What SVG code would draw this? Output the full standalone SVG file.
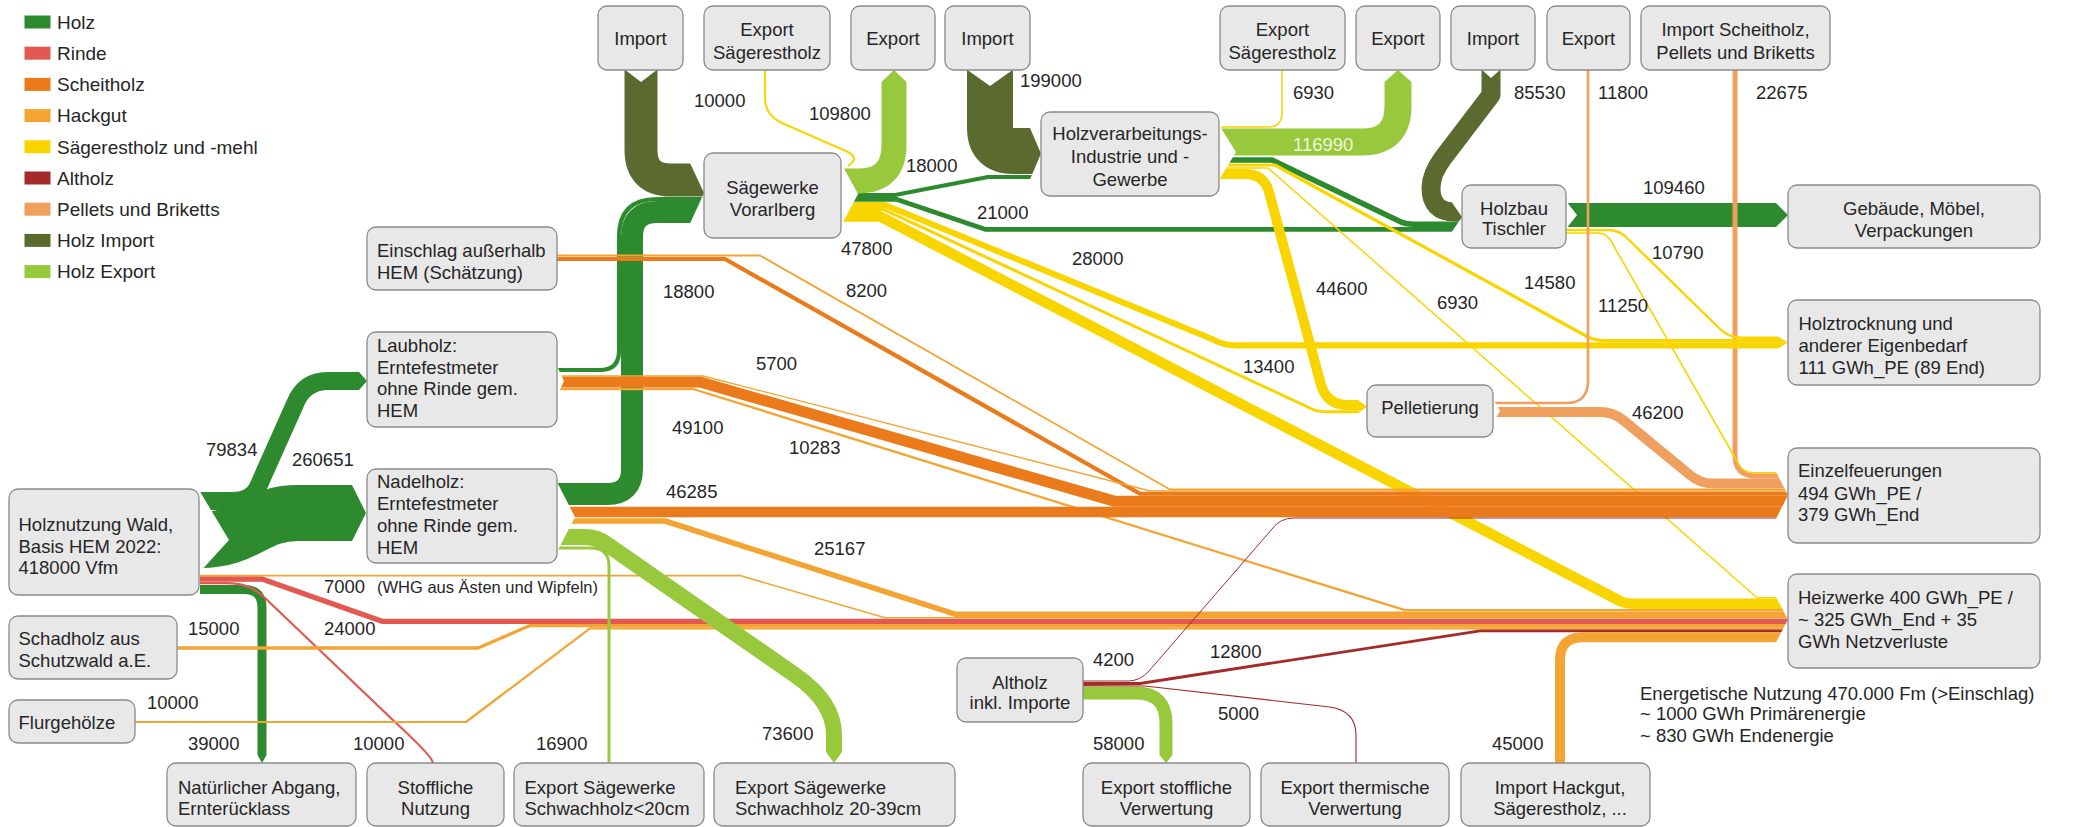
<svg xmlns="http://www.w3.org/2000/svg" width="2074" height="827" viewBox="0 0 2074 827">
<defs>
<style>
text{font-family:"Liberation Sans",Arial,sans-serif;font-size:18.5px;fill:#262626}
.c{text-anchor:middle}
.lg{font-size:19px}
.nd rect{fill:#e8e8e8;stroke:#8a8a8a;stroke-width:1.3}
.f{fill:none;stroke-linejoin:round;stroke-linecap:butt}
.hz{stroke:#2d8a2e}.ri{stroke:#e35850}.sc{stroke:#ea7a1a}.hg{stroke:#f4a433}.sr{stroke:#f9d500}.ah{stroke:#a52a2a}.pb{stroke:#f0a05e}.hi{stroke:#5b6b2f}.he{stroke:#98c83c}
.notch{fill:#fff}
</style>
<clipPath id="cpLaub"><path clip-rule="evenodd" d="M0,0H2074V827H0Z M359,352H399V410H359V390L367,381L359,372Z"/></clipPath>
<clipPath id="cpNadel"><path clip-rule="evenodd" d="M0,0H2074V827H0Z M352,465H392V561H352V541L366,513L352,485Z"/></clipPath>
<clipPath id="cpSag"><path clip-rule="evenodd" d="M0,0H2074V827H0Z M690,143H730V243H690V223.5L704,193L690,163Z"/></clipPath>
<clipPath id="cpHV"><path clip-rule="evenodd" d="M0,0H2074V827H0Z M1030,108H1070V199H1030V179.5L1041,153.5L1030,128Z"/></clipPath>
<clipPath id="cpHB"><path clip-rule="evenodd" d="M0,0H2074V827H0Z M1452,182H1490V252H1452V231.6L1462,217L1452,202.5Z"/></clipPath>
<clipPath id="cpGeb"><path clip-rule="evenodd" d="M0,0H2074V827H0Z M1776,183H1800V247H1776V227L1788,215L1776,203Z"/></clipPath>
<clipPath id="cpHT"><path clip-rule="evenodd" d="M0,0H2074V827H0Z M1778,316H1800V369H1778V348.4L1788,342.5L1778,336.6Z"/></clipPath>
<clipPath id="cpEF"><path clip-rule="evenodd" d="M0,0H2074V827H0Z M1776,450H1800V538H1776V518.5L1788,495.2L1776,471.9Z"/></clipPath>
<clipPath id="cpHW"><path clip-rule="evenodd" d="M0,0H2074V827H0Z M1776,577H1800V662H1776V642.2L1788,619.6L1776,597Z"/></clipPath>
<clipPath id="cpPel"><path clip-rule="evenodd" d="M0,0H2074V827H0Z M1358,380H1380V434H1358V413.3L1367,406.7L1358,400Z"/></clipPath>
<clipPath id="cpEx1"><path clip-rule="evenodd" d="M0,0H2074V827H0Z M861.5,82H881.5L894,70L906.5,82H926.5V52H861.5Z"/></clipPath>
<clipPath id="cpEx2"><path clip-rule="evenodd" d="M0,0H2074V827H0Z M1364.5,82H1384.5L1398,70L1411.5,82H1431.5V52H1364.5Z"/></clipPath>
<clipPath id="cpNat"><path clip-rule="evenodd" d="M0,0H2074V827H0Z M237.5,755H257.5L262,763L266.5,755H286.5V785H237.5Z"/></clipPath>
<clipPath id="cpEx2039"><path clip-rule="evenodd" d="M0,0H2074V827H0Z M806,752H826L834,763L842,752H862V782H806Z"/></clipPath>
<clipPath id="cpExSt"><path clip-rule="evenodd" d="M0,0H2074V827H0Z M1139.5,755H1159.5L1166,763L1172.5,755H1192.5V785H1139.5Z"/></clipPath>
</defs>
<rect width="2074" height="827" fill="#ffffff"/>

<g id="legend">
<rect x="24.5" y="15.5" width="26" height="13" fill="#2d8a2e"/><text class="lg" x="57" y="28.8">Holz</text>
<rect x="24.5" y="46.7" width="26" height="13" fill="#e35850"/><text class="lg" x="57" y="60">Rinde</text>
<rect x="24.5" y="77.9" width="26" height="13" fill="#ea7a1a"/><text class="lg" x="57" y="91.2">Scheitholz</text>
<rect x="24.5" y="109.1" width="26" height="13" fill="#f4a433"/><text class="lg" x="57" y="122.4">Hackgut</text>
<rect x="24.5" y="140.3" width="26" height="13" fill="#f9d500"/><text class="lg" x="57" y="153.6">Sägerestholz und -mehl</text>
<rect x="24.5" y="171.5" width="26" height="13" fill="#a52a2a"/><text class="lg" x="57" y="184.8">Altholz</text>
<rect x="24.5" y="202.7" width="26" height="13" fill="#f0a05e"/><text class="lg" x="57" y="216">Pellets und Briketts</text>
<rect x="24.5" y="233.9" width="26" height="13" fill="#5b6b2f"/><text class="lg" x="57" y="247.2">Holz Import</text>
<rect x="24.5" y="265.1" width="26" height="13" fill="#98c83c"/><text class="lg" x="57" y="278.4">Holz Export</text>
</g>

<g id="connectors">
<g clip-path="url(#cpLaub)"><path class="f hz" stroke-width="18" d="M200,501 L232,501 Q252,501 258,487 L295,404 Q304,381 328,381 L367,381"/></g>
<g clip-path="url(#cpNadel)"><path class="f hz" stroke-width="56" d="M200,540 C248,540 254,513 298,513 L366,513"/></g>
<g clip-path="url(#cpNat)"><path class="f hz" stroke-width="9" d="M200,589.5 L244,589.5 Q262,589.5 262,607.5 L262,763"/></g>
<path class="f ri" stroke-width="2.2" d="M200,583.2 L228,583.2 Q250,583.2 265,598 L395,722 Q433,757 433,763"/>

<g clip-path="url(#cpSag)">
<path class="f hi" stroke-width="33" d="M641,70 L641,150 Q641,180 671,180 L704,180"/>
<path class="f hz" stroke-width="22" d="M557,494 L607,494 Q632,494 632,469 L632,237 Q632,212 657,212 L704,212"/>
<path class="f hz" stroke-width="4.2" d="M557,370 L600,370 Q619,370 619,351 L619,237 Q619,199 657,199 L704,199"/>
</g>
<g clip-path="url(#cpHV)">
<path class="f hi" stroke-width="46" d="M990,70 L990,128 Q990,151 1013,151 L1041,151"/>
<path class="f hz" stroke-width="4" d="M841,195 L895,195 L988,177 L1041,177"/>
</g>
<g clip-path="url(#cpHB)">
<path class="f hi" stroke-width="19" d="M1491,70 L1491,95 L1443,158 Q1431,174 1431,188 Q1431,212 1455,212 L1462,212"/>
<path class="f hz" stroke-width="5.5" d="M1219,160 L1272,160 L1400,221.5 Q1405,224.2 1414,224.2 L1462,224.2"/>
<path class="f hz" stroke-width="4.7" d="M841,199.4 L897,199.4 L985,229.3 L1462,229.3"/>
</g>
<g clip-path="url(#cpGeb)"><path class="f hz" stroke-width="24" d="M1566,215 L1788,215"/></g>

<g clip-path="url(#cpHW)">
<path class="f ri" stroke-width="5.3" d="M200,579 L262,579 L382,621.3 L1788,621.3"/>
<path class="f hg" stroke-width="3.3" d="M177,648 L478,648 L530,625.6 L1788,625.6"/>
<path class="f hg" stroke-width="2.2" d="M135,722 L466,722 L590,628.3 L1788,628.3"/>
<path class="f hg" stroke-width="1.6" d="M200,575.6 L740,575.6 L885,617.8 L1788,617.8"/>
<path class="f hg" stroke-width="5.6" d="M557,521 L665,521 L955,614.2 L1788,614.2"/>
<path class="f hg" stroke-width="2.3" d="M557,389 L693,389 L1405,610.2 L1788,610.2"/>
<path class="f ah" stroke-width="2.8" d="M1083,683.5 L1140,683.5 L1480,630.8 L1788,630.8"/>
<path class="f hg" stroke-width="10" d="M1560,763 L1560,660 Q1560,637.2 1583,637.2 L1788,637.2"/>
<path class="f sr" stroke-width="10.6" d="M841,216.4 L880,216.4 L1620,601 Q1625,603.8 1636,603.8 L1788,603.8"/>
<path class="f sr" stroke-width="1.5" d="M1219,168 L1268,168 L1757,597.7 L1788,597.7"/>
</g>

<g clip-path="url(#cpEF)">
<path class="f sc" stroke-width="10.3" d="M557,512 L1788,512"/>
<path class="f sc" stroke-width="11" d="M557,382 L700,382 L1115,501.35 L1788,501.35"/>
<path class="f sc" stroke-width="4.2" d="M557,259 L725,259 L1140,493.75 L1788,493.75"/>
<path class="f hg" stroke-width="1.3" d="M557,376 L703,376 L1150,491 L1788,491"/>
<path class="f hg" stroke-width="1.8" d="M557,255.5 L760,255.5 L1170,489.45 L1788,489.45"/>
<path class="f ah" stroke-width="1" d="M1083,681 L1128,681 Q1140,681 1149,671 L1272,529 Q1280,518 1294,518 L1788,518"/>
<path class="f pb" stroke-width="10" d="M1494,412 L1600,412 Q1613,412 1623,420 L1690,475 Q1700,483.55 1713,483.55 L1788,483.55"/>
<path class="f pb" stroke-width="5" d="M1735,70 L1735,455 Q1735,476.05 1756,476.05 L1788,476.05"/>
<path class="f sr" stroke-width="1.6" d="M1566,233 L1598,233 Q1606,233 1611,241 L1738,463 Q1743,472.75 1754,472.75 L1788,472.75"/>
</g>

<g clip-path="url(#cpHT)">
<path class="f sr" stroke-width="6.2" d="M841,205 L885,205 L1212,339 Q1222,345.3 1236,345.3 L1788,345.3"/>
<path class="f sr" stroke-width="3.2" d="M1219,165 L1275,165 L1588,337 Q1595,340.6 1606,340.6 L1788,340.6"/>
<path class="f sr" stroke-width="2.4" d="M1566,230 L1608,230 Q1620,230 1628,239 L1719,328 Q1728,337.8 1742,337.8 L1788,337.8"/>
</g>

<g clip-path="url(#cpPel)">
<path class="f sr" stroke-width="10" d="M1219,174 L1245,174 Q1264,174 1269,192 L1321,385 Q1327,405 1348,405 L1367,405"/>
<path class="f sr" stroke-width="3" d="M841,209.6 L884,209.6 L1312,409 Q1318,411.8 1328,411.8 L1367,411.8"/>
</g>

<g clip-path="url(#cpEx1)"><path class="f he" stroke-width="25" d="M841,181 L858,181 Q894,181 894,145 L894,70"/></g>
<g clip-path="url(#cpEx2)"><path class="f he" stroke-width="27" d="M1219,142 L1362,142 Q1398,142 1398,106 L1398,70"/></g>
<g clip-path="url(#cpEx2039)"><path class="f he" stroke-width="16" d="M557,537 L585,537 Q598,537 608,545 L795,675 Q834,702 834,735 L834,763"/></g>
<path class="f he" stroke-width="3" d="M557,548 L591,548 Q609,548 609,566 L609,763"/>
<g clip-path="url(#cpExSt)"><path class="f he" stroke-width="13" d="M1083,693 L1136,693 Q1166,693 1166,723 L1166,763"/></g>

<path class="f sr" stroke-width="2" d="M848,166 Q860,158 848,152 L782,123 Q765,115 765,98 L765,70"/>
<path class="f sr" stroke-width="1.5" d="M1221,127 L1268,127 Q1282,127 1282,113 L1282,70"/>
<path class="f pb" stroke-width="2.6" d="M1494,403 L1566,403 Q1588,403 1588,381 L1588,70"/>
<path class="f ah" stroke-width="1.1" d="M1083,685.6 L1145,686 L1330,707 Q1356,711 1356,735 L1356,763"/>

<polygon class="notch" points="199,490 229,540 199,573"/>
<polygon class="notch" points="557,482 575,517 557,552"/>
<polygon class="notch" points="557,366 564,381 557,396"/>
<polygon class="notch" points="841,163 858,194 841,226"/>
<polygon class="notch" points="1219,125 1236,152 1219,180"/>
<polygon class="notch" points="1566,201 1577,215 1566,229"/>
<polygon class="notch" points="1493,399 1500,411 1493,423"/>
<polygon class="notch" points="624,69 641,82 658,69"/>
<polygon class="notch" points="966,69 990,86 1014,69"/>
<polygon class="notch" points="1481,69 1491,78 1501,69"/>
</g>

<g id="n-holznutzung" class="nd"><rect x="9" y="489" width="190" height="106" rx="9"/><text x="18.5" y="530.5">Holznutzung Wald,</text><text x="18.5" y="552.5">Basis HEM 2022:</text><text x="18.5" y="573.5">418000 Vfm</text></g>
<g id="n-schadholz" class="nd"><rect x="9" y="616" width="168" height="63" rx="9"/><text x="18.5" y="645">Schadholz aus</text><text x="18.5" y="667">Schutzwald a.E.</text></g>
<g id="n-flurgehoelze" class="nd"><rect x="9" y="700" width="126" height="43" rx="9"/><text x="18.5" y="728.5">Flurgehölze</text></g>
<g id="n-einschlag" class="nd"><rect x="367" y="227" width="190" height="63" rx="9"/><text x="377" y="257">Einschlag außerhalb</text><text x="377" y="278.5">HEM (Schätzung)</text></g>
<g id="n-laubholz" class="nd"><rect x="367" y="332" width="190" height="95" rx="9"/><text x="377" y="352">Laubholz:</text><text x="377" y="373.5">Erntefestmeter</text><text x="377" y="395">ohne Rinde gem.</text><text x="377" y="417">HEM</text></g>
<g id="n-nadelholz" class="nd"><rect x="367" y="469" width="190" height="94" rx="9"/><text x="377" y="488">Nadelholz:</text><text x="377" y="510">Erntefestmeter</text><text x="377" y="532">ohne Rinde gem.</text><text x="377" y="554">HEM</text></g>
<g id="n-natabgang" class="nd"><rect x="167" y="763" width="189" height="63" rx="9"/><text x="178" y="793.5">Natürlicher Abgang,</text><text x="178" y="815">Ernterücklass</text></g>
<g id="n-stoffl" class="nd"><rect x="367" y="763" width="137" height="63" rx="9"/><text class="c" x="435.5" y="793.5">Stoffliche</text><text class="c" x="435.5" y="815">Nutzung</text></g>
<g id="n-exsw20" class="nd"><rect x="514" y="763" width="190" height="63" rx="9"/><text x="524.5" y="793.5">Export Sägewerke</text><text x="524.5" y="815">Schwachholz&lt;20cm</text></g>
<g id="n-exsw2039" class="nd"><rect x="714" y="763" width="241" height="63" rx="9"/><text x="735" y="793.5">Export Sägewerke</text><text x="735" y="815">Schwachholz 20-39cm</text></g>
<g id="n-import1" class="nd"><rect x="598" y="6" width="85" height="64" rx="9"/><text class="c" x="640.5" y="44.5">Import</text></g>
<g id="n-exsr1" class="nd"><rect x="704" y="6" width="126" height="64" rx="9"/><text class="c" x="767" y="36">Export</text><text class="c" x="767" y="58.5">Sägerestholz</text></g>
<g id="n-export1" class="nd"><rect x="851" y="6" width="84" height="64" rx="9"/><text class="c" x="893" y="44.5">Export</text></g>
<g id="n-import2" class="nd"><rect x="945" y="6" width="85" height="64" rx="9"/><text class="c" x="987.5" y="44.5">Import</text></g>
<g id="n-exsr2" class="nd"><rect x="1220" y="6" width="125" height="64" rx="9"/><text class="c" x="1282.5" y="36">Export</text><text class="c" x="1282.5" y="58.5">Sägerestholz</text></g>
<g id="n-export2" class="nd"><rect x="1356" y="6" width="84" height="64" rx="9"/><text class="c" x="1398" y="44.5">Export</text></g>
<g id="n-import3" class="nd"><rect x="1451" y="6" width="84" height="64" rx="9"/><text class="c" x="1493" y="44.5">Import</text></g>
<g id="n-export3" class="nd"><rect x="1547" y="6" width="83" height="64" rx="9"/><text class="c" x="1588.5" y="44.5">Export</text></g>
<g id="n-importsch" class="nd"><rect x="1641" y="6" width="189" height="64" rx="9"/><text class="c" x="1735.5" y="36">Import Scheitholz,</text><text class="c" x="1735.5" y="58.5">Pellets und Briketts</text></g>
<g id="n-saegewerke" class="nd"><rect x="704" y="153" width="137" height="85" rx="9"/><text class="c" x="772.5" y="193.5">Sägewerke</text><text class="c" x="772.5" y="216">Vorarlberg</text></g>
<g id="n-holzverarb" class="nd"><rect x="1041" y="112" width="178" height="84" rx="9"/><text class="c" x="1130" y="140">Holzverarbeitungs-</text><text class="c" x="1130" y="163">Industrie und -</text><text class="c" x="1130" y="185.5">Gewerbe</text></g>
<g id="n-holzbau" class="nd"><rect x="1462" y="185" width="104" height="63" rx="9"/><text class="c" x="1514" y="214.5">Holzbau</text><text class="c" x="1514" y="235">Tischler</text></g>
<g id="n-gebaeude" class="nd"><rect x="1788" y="185" width="252" height="63" rx="9"/><text class="c" x="1914" y="215">Gebäude, Möbel,</text><text class="c" x="1914" y="237">Verpackungen</text></g>
<g id="n-holztrocknung" class="nd"><rect x="1788" y="300" width="252" height="85" rx="9"/><text x="1798.5" y="329.5">Holztrocknung und</text><text x="1798.5" y="352">anderer Eigenbedarf</text><text x="1798.5" y="373.5">111 GWh_PE (89 End)</text></g>
<g id="n-pelletierung" class="nd"><rect x="1367" y="385" width="126" height="52" rx="9"/><text class="c" x="1430" y="413.5">Pelletierung</text></g>
<g id="n-einzelfeuerungen" class="nd"><rect x="1788" y="448" width="252" height="95" rx="9"/><text x="1798" y="477">Einzelfeuerungen</text><text x="1798" y="500">494 GWh_PE /</text><text x="1798" y="521">379 GWh_End</text></g>
<g id="n-heizwerke" class="nd"><rect x="1788" y="574" width="252" height="94" rx="9"/><text x="1798" y="603.5">Heizwerke 400 GWh_PE /</text><text x="1798" y="626">~ 325 GWh_End + 35</text><text x="1798" y="647.5">GWh Netzverluste</text></g>
<g id="n-altholz" class="nd"><rect x="957" y="658" width="126" height="64" rx="9"/><text class="c" x="1020" y="688.5">Altholz</text><text class="c" x="1020" y="709">inkl. Importe</text></g>
<g id="n-exstoffl" class="nd"><rect x="1083" y="763" width="167" height="63" rx="9"/><text class="c" x="1166.5" y="793.5">Export stoffliche</text><text class="c" x="1166.5" y="815">Verwertung</text></g>
<g id="n-exthermisch" class="nd"><rect x="1261" y="763" width="188" height="63" rx="9"/><text class="c" x="1355" y="793.5">Export thermische</text><text class="c" x="1355" y="815">Verwertung</text></g>
<g id="n-importhackgut" class="nd"><rect x="1461" y="763" width="189" height="63" rx="9"/><text class="c" x="1560" y="793.5">Import Hackgut,</text><text class="c" x="1560" y="815">Sägerestholz, ...</text></g>

<g id="labels">
<text x="694" y="107">10000</text>
<text x="809" y="120">109800</text>
<text x="906" y="172">18000</text>
<text x="1020" y="87">199000</text>
<text x="977" y="219">21000</text>
<text x="841" y="255">47800</text>
<text x="1072" y="265">28000</text>
<text x="663" y="298">18800</text>
<text x="846" y="297">8200</text>
<text x="756" y="370">5700</text>
<text x="672" y="434">49100</text>
<text x="789" y="454">10283</text>
<text x="666" y="498">46285</text>
<text x="814" y="555">25167</text>
<text x="206" y="456">79834</text>
<text x="292" y="466">260651</text>
<text x="324" y="593">7000</text>
<text x="377" y="593" style="font-size:16.5px">(WHG aus Ästen und Wipfeln)</text>
<text x="188" y="635">15000</text>
<text x="324" y="635">24000</text>
<text x="147" y="709">10000</text>
<text x="188" y="750">39000</text>
<text x="353" y="750">10000</text>
<text x="536" y="750">16900</text>
<text x="762" y="740">73600</text>
<text x="1093" y="666">4200</text>
<text x="1210" y="658">12800</text>
<text x="1218" y="720">5000</text>
<text x="1093" y="750">58000</text>
<text x="1492" y="750">45000</text>
<text x="1293" y="99">6930</text>
<text x="1514" y="99">85530</text>
<text x="1598" y="99">11800</text>
<text x="1756" y="99">22675</text>
<text x="1293" y="151" style="fill:#eef7dc">116990</text>
<text x="1643" y="194">109460</text>
<text x="1652" y="259">10790</text>
<text x="1316" y="295">44600</text>
<text x="1524" y="289">14580</text>
<text x="1437" y="309">6930</text>
<text x="1598" y="312">11250</text>
<text x="1243" y="373">13400</text>
<text x="1632" y="419">46200</text>
<text x="1640" y="700">Energetische Nutzung 470.000 Fm (&gt;Einschlag)</text>
<text x="1640" y="720">~ 1000 GWh Primärenergie</text>
<text x="1640" y="741.5">~ 830 GWh Endenergie</text>
</g>
</svg>
